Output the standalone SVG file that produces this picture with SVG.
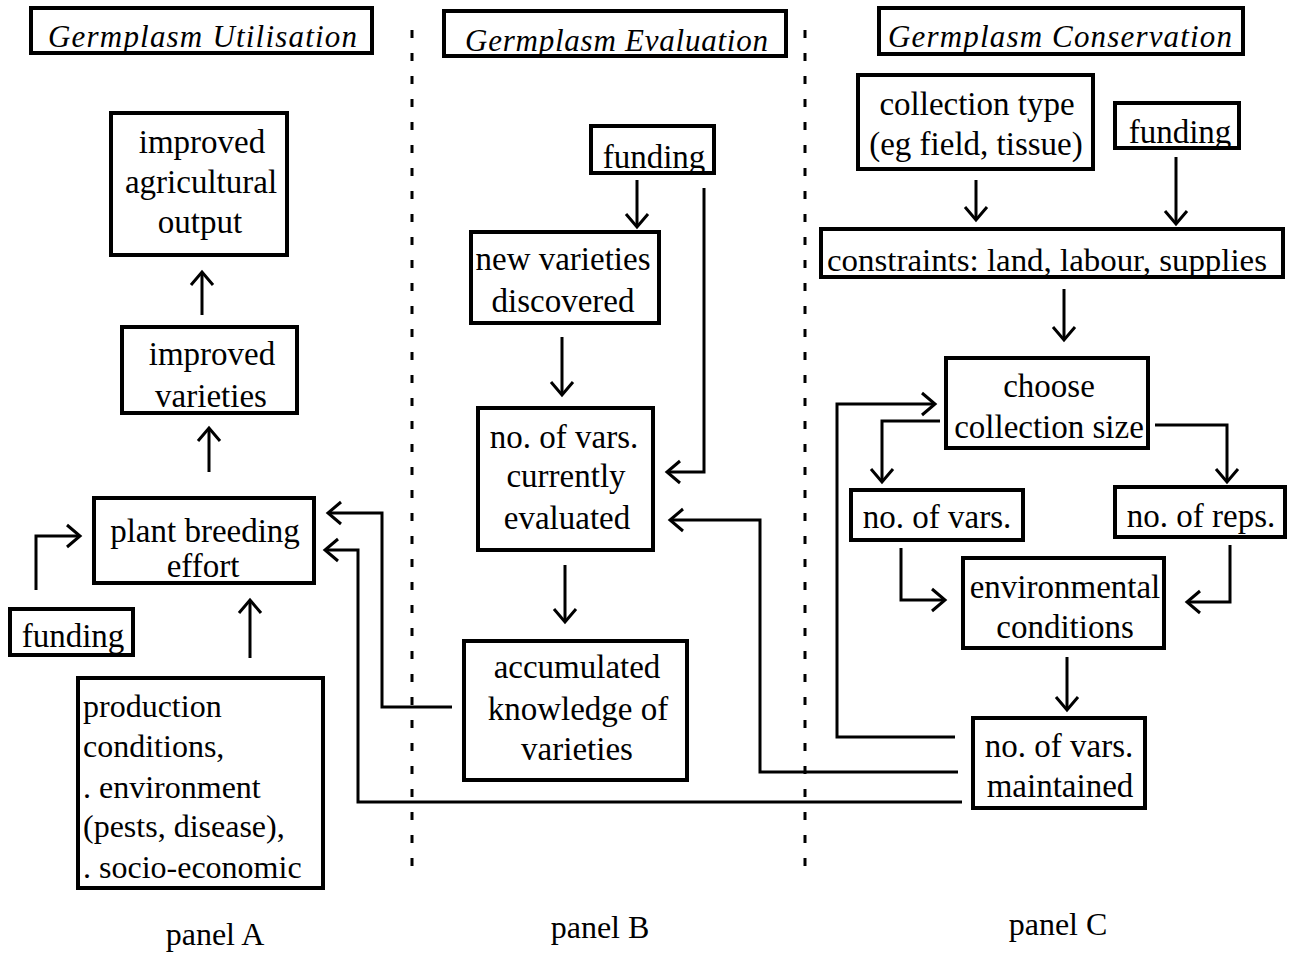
<svg xmlns="http://www.w3.org/2000/svg" width="1294" height="955" viewBox="0 0 1294 955">
<style>
.box{fill:#fff;stroke:#000;stroke-width:4}
.t{font-family:"Liberation Serif","Times New Roman",serif;font-size:33px;fill:#000;text-anchor:middle}
.l{text-anchor:start;font-size:32px}
.h{font-style:italic;text-anchor:start;font-size:31px}
.c{fill:none;stroke:#000;stroke-width:3}
.a{marker-end:url(#ah)}
.d{fill:none;stroke:#000;stroke-width:3;stroke-dasharray:8 15}
.p{font-size:32px}
</style>
<defs>
<marker id="ah" markerUnits="userSpaceOnUse" markerWidth="30" markerHeight="30" viewBox="0 0 30 24" refX="15" refY="12" orient="auto">
<path d="M2,1 L15,12 L2,23" fill="none" stroke="#000" stroke-width="3"/>
</marker>
</defs>
<rect width="1294" height="955" fill="#fff"/>

<g id="dividers">
<line class="d" x1="412" y1="30" x2="412" y2="875"/>
<line class="d" x1="805" y1="30" x2="805" y2="870"/>
</g>

<g id="connectors">
<line class="c a" x1="202" y1="315" x2="202" y2="272"/>
<line class="c a" x1="209" y1="472" x2="209" y2="428"/>
<polyline class="c a" points="36,590 36,536 80,536"/>
<line class="c a" x1="250" y1="658" x2="250" y2="600"/>
<polyline class="c a" points="452,707 382,707 382,513 328,513"/>
<polyline class="c a" points="962,802 358,802 358,550 325,550"/>
<line class="c a" x1="637" y1="180" x2="637" y2="227"/>
<polyline class="c a" points="704,188 704,472 667,472"/>
<line class="c a" x1="562" y1="337" x2="562" y2="395"/>
<polyline class="c a" points="958,772 760,772 760,520 670,520"/>
<line class="c a" x1="565" y1="565" x2="565" y2="622"/>
<line class="c a" x1="976" y1="180" x2="976" y2="220"/>
<line class="c a" x1="1176" y1="157" x2="1176" y2="224"/>
<line class="c a" x1="1064" y1="289" x2="1064" y2="340"/>
<polyline class="c a" points="955,737 837,737 837,404 935,404"/>
<polyline class="c a" points="940,421 882,421 882,482"/>
<polyline class="c a" points="1155,425 1227,425 1227,482"/>
<polyline class="c a" points="901,548 901,600 945,600"/>
<polyline class="c a" points="1230,545 1230,602 1187,602"/>
<line class="c a" x1="1067" y1="657" x2="1067" y2="710"/>
</g>

<g id="hdrA"><rect class="box" x="31" y="8" width="341" height="45"/><text class="t h" x="48" y="47" textLength="309" lengthAdjust="spacing">Germplasm  Utilisation</text></g>
<g id="hdrB"><rect class="box" x="444" y="11" width="342" height="45"/><text class="t h" x="465" y="51" textLength="303" lengthAdjust="spacing">Germplasm  Evaluation</text></g>
<g id="hdrC"><rect class="box" x="879" y="8" width="364" height="46"/><text class="t h" x="888" y="47" textLength="344" lengthAdjust="spacing">Germplasm  Conservation</text></g>

<g id="output"><rect class="box" x="111" y="113" width="176" height="142"/><text class="t" x="202" y="153">improved</text><text class="t" x="201" y="193">agricultural</text><text class="t" x="200" y="233">output</text></g>
<g id="impvar"><rect class="box" x="122" y="327" width="175" height="86"/><text class="t" x="212" y="365">improved</text><text class="t" x="211" y="407">varieties</text></g>
<g id="breeding"><rect class="box" x="94" y="498" width="220" height="85"/><text class="t" x="205" y="542">plant breeding</text><text class="t" x="203" y="577">effort</text></g>
<g id="fundingA"><rect class="box" x="10" y="609" width="123" height="46"/><text class="t" x="73" y="647">funding</text></g>
<g id="production"><rect class="box" x="78" y="678" width="245" height="210"/>
<text class="t l" x="83" y="717">production</text>
<text class="t l" x="83" y="757">conditions,</text>
<text class="t l" x="83" y="798">. environment</text>
<text class="t l" x="83" y="837">(pests, disease),</text>
<text class="t l" x="83" y="878">. socio-economic</text></g>

<g id="fundingB"><rect class="box" x="591" y="126" width="123" height="47"/><text class="t" x="654" y="168">funding</text></g>
<g id="newvar"><rect class="box" x="471" y="232" width="188" height="91"/><text class="t" x="563" y="270">new varieties</text><text class="t" x="563" y="312">discovered</text></g>
<g id="evaluated"><rect class="box" x="478" y="408" width="175" height="142"/><text class="t" x="564" y="448">no. of vars.</text><text class="t" x="566" y="487">currently</text><text class="t" x="567" y="529">evaluated</text></g>
<g id="knowledge"><rect class="box" x="464" y="641" width="223" height="139"/><text class="t" x="577" y="678">accumulated</text><text class="t" x="578" y="720">knowledge of</text><text class="t" x="577" y="760">varieties</text></g>

<g id="colltype"><rect class="box" x="858" y="75" width="235" height="94"/><text class="t" x="977" y="115">collection type</text><text class="t" x="976" y="155">(eg field, tissue)</text></g>
<g id="fundingC"><rect class="box" x="1115" y="103" width="124" height="45"/><text class="t" x="1180" y="143">funding</text></g>
<g id="constraints"><rect class="box" x="821" y="229" width="462" height="48"/><text class="t l" x="827" y="271" textLength="440" lengthAdjust="spacingAndGlyphs">constraints: land, labour, supplies</text></g>
<g id="choose"><rect class="box" x="946" y="358" width="202" height="90"/><text class="t" x="1049" y="397">choose</text><text class="t" x="1049" y="438">collection size</text></g>
<g id="nvars"><rect class="box" x="851" y="490" width="172" height="50"/><text class="t" x="937" y="528">no. of vars.</text></g>
<g id="nreps"><rect class="box" x="1115" y="487" width="170" height="50"/><text class="t" x="1201" y="527">no. of reps.</text></g>
<g id="env"><rect class="box" x="963" y="558" width="201" height="90"/><text class="t" x="1065" y="598">environmental</text><text class="t" x="1065" y="638">conditions</text></g>
<g id="maintained"><rect class="box" x="973" y="718" width="172" height="90"/><text class="t" x="1059" y="757">no. of vars.</text><text class="t" x="1060" y="797">maintained</text></g>

<g id="labels">
<text class="t p" x="215" y="945">panel A</text>
<text class="t p" x="600" y="938">panel B</text>
<text class="t p" x="1058" y="935">panel C</text>
</g>
</svg>
